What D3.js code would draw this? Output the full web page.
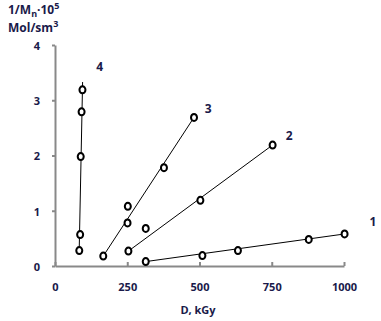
<!DOCTYPE html>
<html>
<head>
<meta charset="utf-8">
<script src="https://cdn.jsdelivr.net/npm/d3@7"></script>
<style>
  body { margin: 0; background: #fff; }
  text { font-family: "Open Sans", "Liberation Sans", Arial, sans-serif; font-weight: bold; }
</style>
</head>
<body>
<div id="chart"></div>
<script>
// dose (kGy) and 1/Mn*10^5 for each series
const series1D = [314, 510, 633, 878, 1002];
const series1V = [0.08, 0.19, 0.28, 0.48, 0.58];
const series2D = [254, 314, 503, 753];
const series2V = [0.27, 0.68, 1.19, 2.19];
const series3D = [167, 251, 252, 377, 481];
const series3V = [0.18, 0.78, 1.08, 1.78, 2.69];
const series4D = [84, 87, 89, 92, 95];
const series4V = [0.28, 0.57, 1.98, 2.79, 3.19];

// trend line ends [D, value]
const trend1 = [[314, 0.08], [1002, 0.58]];
const trend2 = [[254, 0.27], [753, 2.19]];
const trend3 = [[167, 0.18], [481, 2.69]];
const trend4 = [[84, 0.35], [95.5, 3.33]];

const seriesNames = ["1", "2", "3", "4"];
const nameAt = [[1100, 0.8], [810, 2.35], [530, 2.85], [155, 3.6]];

const xTicks = [0, 250, 500, 750, 1000];
const yTicks = [0, 1, 2, 3, 4];

const width = 381, height = 321;
const svg = d3.select("#chart").append("svg")
  .attr("width", width).attr("height", height);

const x = d3.scaleLinear().domain([0, 1000]).range([55, 344]);
const y = d3.scaleLinear().domain([0, 4]).range([266, 45]);

const axisColor = "#898989";
const labelColor = "#1a1a4a";
const fontFam = "Open Sans, Liberation Sans, Arial, sans-serif";

// x axis
const xAxis = svg.append("g").attr("transform", "translate(0,266)")
  .call(d3.axisBottom(x).tickValues(xTicks).tickFormat(d3.format("d"))
    .tickSizeInner(-4).tickSizeOuter(0).tickPadding(17));
// y axis
const yAxis = svg.append("g").attr("transform", "translate(55,0)")
  .call(d3.axisLeft(y).tickValues(yTicks).tickFormat(d3.format("d"))
    .tickSizeInner(3).tickSizeOuter(0).tickPadding(14));

[xAxis, yAxis].forEach(a => {
  a.select(".domain").attr("stroke", axisColor).attr("stroke-width", 2);
  a.selectAll(".tick line").attr("stroke", axisColor).attr("stroke-width", 2);
  a.selectAll(".tick text").attr("fill", labelColor)
    .style("font-size", "11px").style("font-family", fontFam)
    .style("font-weight", "bold");
});
yAxis.selectAll(".tick text").attr("text-anchor", "middle").attr("x", -18).attr("dy", "0.4em");

// axis titles
svg.append("text").attr("x", 198).attr("y", 314).attr("text-anchor", "middle")
  .attr("fill", labelColor).style("font-size", "11px").text("D, kGy");

const yt = svg.append("text").attr("x", 8).attr("y", 14)
  .attr("fill", labelColor).style("font-size", "12px");
yt.append("tspan").text("1/M");
yt.append("tspan").attr("dy", 3).style("font-size", "9px").text("n");
yt.append("tspan").attr("dy", -3).text("·10");
yt.append("tspan").attr("dy", -5).style("font-size", "9px").text("5");
const yt2 = svg.append("text").attr("x", 8).attr("y", 32)
  .attr("fill", labelColor).style("font-size", "12px");
yt2.append("tspan").text("Mol/sm");
yt2.append("tspan").attr("dy", -5).style("font-size", "9px").text("3");

const line = d3.line().x(d => x(d[0])).y(d => y(d[1]));
[trend1, trend2, trend3, trend4].forEach(t => {
  svg.append("path").attr("d", line(t))
    .attr("fill", "none").attr("stroke", "#000").attr("stroke-width", 1);
});

const all = [[series1D, series1V], [series2D, series2V], [series3D, series3V], [series4D, series4V]];
all.forEach(([ds, vs]) => {
  svg.append("g").selectAll("ellipse")
    .data(ds.map((d, i) => [d, vs[i]]))
    .join("ellipse")
    .attr("cx", d => x(d[0])).attr("cy", d => y(d[1]))
    .attr("rx", 3).attr("ry", 3.5)
    .attr("fill", "#fff").attr("stroke", "#000").attr("stroke-width", 2);
});

svg.append("g").selectAll("text")
  .data(seriesNames)
  .join("text")
  .attr("x", (d, i) => x(nameAt[i][0])).attr("y", (d, i) => y(nameAt[i][1]) + 4)
  .attr("text-anchor", "middle").attr("fill", labelColor)
  .style("font-size", "12px").text(d => d);
</script>
</body>
</html>
